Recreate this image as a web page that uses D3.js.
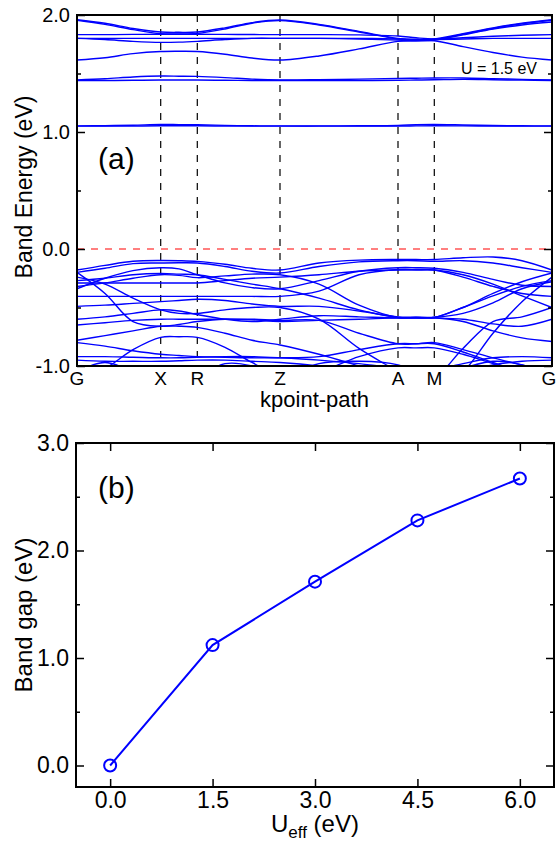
<!DOCTYPE html>
<html>
<head>
<meta charset="utf-8">
<script src="https://cdn.jsdelivr.net/npm/d3@7"></script>
<style>
  body { margin: 0; background: #fff; }
  svg text { font-family: "Liberation Sans", Arial, Helvetica, sans-serif; fill: #000; }
</style>
</head>
<body>
<div id="graphicContainer"></div>
<script>
// high symmetry points along the path
var kLabels = ["G", "X", "R", "Z", "A", "M", "G"]
var kLabelPos = [0, 0.837, 1.203, 2.03, 3.21, 3.573, 4.75]
// k samples used by every band
var kGrid = [0, 0.28, 0.56, 0.837, 1.02, 1.203, 1.48, 1.75, 2.03, 2.42, 2.82, 3.21, 3.39, 3.573, 3.86, 4.16, 4.45, 4.75]

// conduction bands (eV)
var c01 = [1.052, 1.054, 1.058, 1.064, 1.063, 1.062, 1.057, 1.053, 1.052, 1.052, 1.053, 1.056, 1.062, 1.064, 1.060, 1.055, 1.053, 1.052]
var c02 = [1.050, 1.050, 1.051, 1.053, 1.053, 1.053, 1.051, 1.050, 1.050, 1.050, 1.050, 1.050, 1.052, 1.053, 1.052, 1.051, 1.050, 1.050]
var c03 = [1.445, 1.455, 1.470, 1.478, 1.477, 1.475, 1.465, 1.452, 1.445, 1.447, 1.452, 1.458, 1.460, 1.462, 1.462, 1.456, 1.450, 1.445]
var c04 = [1.440, 1.440, 1.442, 1.444, 1.444, 1.444, 1.442, 1.440, 1.440, 1.440, 1.440, 1.442, 1.444, 1.446, 1.450, 1.447, 1.443, 1.440]
var c05 = [1.615, 1.635, 1.670, 1.688, 1.690, 1.688, 1.665, 1.632, 1.615, 1.650, 1.710, 1.775, 1.780, 1.780, 1.730, 1.680, 1.640, 1.615]
var c06 = [1.960, 1.930, 1.885, 1.855, 1.852, 1.855, 1.890, 1.935, 1.957, 1.920, 1.860, 1.800, 1.790, 1.795, 1.840, 1.890, 1.930, 1.960]
var c07 = [1.955, 1.920, 1.875, 1.840, 1.838, 1.842, 1.880, 1.930, 1.952, 1.915, 1.855, 1.795, 1.785, 1.790, 1.835, 1.885, 1.925, 1.955]
var c08 = [1.832, 1.832, 1.834, 1.835, 1.835, 1.835, 1.834, 1.833, 1.832, 1.832, 1.830, 1.820, 1.805, 1.795, 1.805, 1.818, 1.827, 1.832]
var c09 = [1.800, 1.790, 1.775, 1.766, 1.768, 1.775, 1.790, 1.800, 1.800, 1.800, 1.800, 1.795, 1.790, 1.790, 1.795, 1.800, 1.800, 1.800]
var c10 = [1.800, 1.800, 1.800, 1.800, 1.800, 1.800, 1.800, 1.800, 1.800, 1.800, 1.795, 1.785, 1.780, 1.785, 1.830, 1.880, 1.915, 1.940]

// valence bands (eV)
var v01 = [-0.18, -0.14, -0.105, -0.098, -0.10, -0.106, -0.13, -0.165, -0.18, -0.12, -0.095, -0.09, -0.09, -0.09, -0.075, -0.068, -0.10, -0.18]
var v02 = [-0.20, -0.165, -0.125, -0.12, -0.118, -0.12, -0.15, -0.19, -0.205, -0.15, -0.11, -0.10, -0.10, -0.105, -0.10, -0.12, -0.16, -0.20]
var v03 = [-0.34, -0.25, -0.185, -0.16, -0.17, -0.22, -0.29, -0.33, -0.34, -0.27, -0.19, -0.16, -0.16, -0.165, -0.20, -0.26, -0.31, -0.32]
var v04 = [-0.32, -0.29, -0.25, -0.22, -0.225, -0.245, -0.23, -0.215, -0.22, -0.30, -0.48, -0.585, -0.585, -0.585, -0.50, -0.38, -0.28, -0.205]
var v05 = [-0.20, -0.38, -0.62, -0.66, -0.645, -0.62, -0.60, -0.605, -0.62, -0.61, -0.60, -0.588, -0.588, -0.588, -0.62, -0.70, -0.76, -0.79]
var v06 = [-0.405, -0.405, -0.405, -0.405, -0.405, -0.405, -0.405, -0.405, -0.405, -0.36, -0.22, -0.175, -0.175, -0.18, -0.24, -0.32, -0.38, -0.405]
var v07 = [-0.49, -0.48, -0.465, -0.45, -0.44, -0.43, -0.44, -0.47, -0.49, -0.49, -0.53, -0.58, -0.583, -0.583, -0.55, -0.46, -0.34, -0.28]
var v08 = [-0.29, -0.29, -0.29, -0.29, -0.29, -0.29, -0.27, -0.25, -0.24, -0.22, -0.19, -0.18, -0.18, -0.18, -0.22, -0.30, -0.40, -0.50]
var v09 = [-0.60, -0.58, -0.55, -0.52, -0.53, -0.56, -0.60, -0.62, -0.60, -0.57, -0.58, -0.59, -0.59, -0.59, -0.60, -0.64, -0.66, -0.60]
var v10 = [-0.65, -0.63, -0.61, -0.60, -0.60, -0.60, -0.60, -0.60, -0.61, -0.61, -0.72, -0.81, -0.81, -0.80, -0.86, -0.93, -0.99, -1.05]
var v11 = [-1.10, -1.02, -0.86, -0.755, -0.75, -0.755, -0.84, -0.97, -1.08, -1.05, -0.92, -0.845, -0.845, -0.845, -0.90, -0.98, -1.05, -1.10]
var v12 = [-0.80, -0.83, -0.87, -0.90, -0.91, -0.92, -0.925, -0.93, -0.93, -0.92, -0.86, -0.81, -0.81, -0.81, -0.88, -0.97, -1.05, -1.10]
var v13 = [-0.92, -0.92, -0.925, -0.93, -0.93, -0.925, -0.92, -0.92, -0.93, -0.95, -0.98, -1.02, -1.03, -1.03, -0.98, -0.93, -0.92, -0.93]
var v14 = [-0.95, -0.96, -0.96, -0.96, -0.955, -0.95, -0.95, -0.96, -0.97, -1.00, -1.05, -1.10, -1.10, -1.10, -1.05, -0.99, -0.96, -0.95]
var v15 = [-0.24, -0.30, -0.42, -0.52, -0.55, -0.55, -0.52, -0.50, -0.50, -0.60, -0.85, -1.05, -1.15, -1.20, -1.05, -0.72, -0.45, -0.24]
var v16 = [-0.27, -0.25, -0.22, -0.21, -0.215, -0.22, -0.26, -0.30, -0.34, -0.42, -0.52, -0.585, -0.585, -0.585, -0.50, -0.40, -0.32, -0.27]
var v17 = [-1.05, -0.97, -1.05, -1.15, -1.20, -1.10, -0.98, -1.00, -1.10, -0.98, -0.96, -0.99, -1.05, -1.10, -1.02, -0.96, -0.99, -1.10]
var v18 = [-0.78, -0.74, -0.70, -0.66, -0.66, -0.67, -0.72, -0.78, -0.82, -0.90, -1.00, -1.10, -1.10, -1.10, -0.85, -0.62, -0.58, -0.50]

var bands = [c01, c02, c03, c04, c05, c06, c07, c08, c09, c10,
	v01, v02, v03, v04, v05, v06, v07, v08, v09, v10, v11, v12, v13, v14, v15, v16, v17, v18]

// panel (b)
var uEff = [0, 1.5, 3.0, 4.5, 6.0]
var bandGap = [0, 1.12, 1.71, 2.28, 2.67]

var blue = "#0000ff"

var svg = d3.select("#graphicContainer").append("svg")
	.attr("width", 556)
	.attr("height", 843)

// ---------- panel (a) ----------
var a = {left: 77, right: 552, top: 15, bottom: 366}

var x = d3.scaleLinear().domain([0, 4.75]).range([a.left, a.right])
var y = d3.scaleLinear().domain([-1, 2]).range([a.bottom, a.top])

svg.append("clipPath").attr("id", "clipA")
	.append("rect")
	.attr("x", a.left).attr("y", a.top)
	.attr("width", a.right - a.left).attr("height", a.bottom - a.top)

var plotA = svg.append("g").attr("clip-path", "url(#clipA)")

// high symmetry dashed lines
plotA.selectAll(".kline")
	.data(kLabelPos.slice(1, -1))
	.enter().append("line")
	.attr("class", "kline")
	.attr("x1", d => x(d)).attr("x2", d => x(d))
	.attr("y1", a.top).attr("y2", a.bottom)
	.attr("stroke", "#000")
	.attr("stroke-width", 1.2)
	.attr("stroke-dasharray", "7,7")

// fermi level
plotA.append("line")
	.attr("x1", a.left).attr("x2", a.right)
	.attr("y1", y(0)).attr("y2", y(0))
	.attr("stroke", "#ff0000")
	.attr("stroke-width", 1.2)
	.attr("stroke-dasharray", "7,7")

var bandLine = d3.line()
	.x((d, i) => x(kGrid[i]))
	.y(d => y(d))
	.curve(d3.curveCatmullRom.alpha(0.5))

plotA.selectAll(".band")
	.data(bands)
	.enter().append("path")
	.attr("class", "band")
	.attr("d", bandLine)
	.attr("fill", "none")
	.attr("stroke", blue)
	.attr("stroke-width", 1.4)

// y axes, ticks inward
function addTicks(g, axis) {
	g.call(axis)
	g.select(".domain").remove()
	g.selectAll(".tick line").attr("stroke", "#000").attr("stroke-width", 1.5)
}

var majorA = [-1, 0, 1, 2]
var minorA = [-0.5, 0.5, 1.5]

var yAxisA = svg.append("g").attr("transform", "translate(" + a.left + ",0)")
addTicks(yAxisA, d3.axisLeft(y).tickValues(majorA).tickSize(-8).tickPadding(7).tickFormat(d3.format(".1f")))
yAxisA.selectAll("text").style("font-size", "20px").text(d => d.toFixed(1))
addTicks(svg.append("g").attr("transform", "translate(" + a.left + ",0)"),
	d3.axisLeft(y).tickValues(minorA).tickSize(-4).tickFormat(""))
addTicks(svg.append("g").attr("transform", "translate(" + a.right + ",0)"),
	d3.axisRight(y).tickValues(majorA).tickSize(-8).tickFormat(""))
addTicks(svg.append("g").attr("transform", "translate(" + a.right + ",0)"),
	d3.axisRight(y).tickValues(minorA).tickSize(-4).tickFormat(""))

svg.append("rect")
	.attr("x", a.left).attr("y", a.top)
	.attr("width", a.right - a.left).attr("height", a.bottom - a.top)
	.attr("fill", "none").attr("stroke", "#000").attr("stroke-width", 2)

// last label pulled in a little so it stays inside the page
svg.selectAll(".klabel")
	.data(kLabels)
	.enter().append("text")
	.attr("class", "klabel")
	.attr("x", (d, i) => x(kLabelPos[i]) - (i == kLabels.length - 1 ? 3 : 0))
	.attr("y", 385)
	.attr("text-anchor", "middle")
	.style("font-size", "19px")
	.text(d => d)

svg.append("text")
	.attr("x", (a.left + a.right) / 2).attr("y", 407)
	.attr("text-anchor", "middle")
	.style("font-size", "22px")
	.text("kpoint-path")

svg.append("text")
	.attr("transform", "translate(32," + 187 + ") rotate(-90)")
	.attr("text-anchor", "middle")
	.style("font-size", "23px")
	.text("Band Energy (eV)")

svg.append("text")
	.attr("x", 98).attr("y", 169)
	.style("font-size", "30px")
	.text("(a)")

svg.append("text")
	.attr("x", 537).attr("y", 74)
	.attr("text-anchor", "end")
	.style("font-size", "16px")
	.text("U = 1.5 eV")

// ---------- panel (b) ----------
var b = {left: 76, right: 554, top: 443, bottom: 787}

var xb = d3.scaleLinear().domain([-0.5, 6.5]).range([b.left, b.right])
var yb = d3.scaleLinear().domain([-0.2, 3.0]).range([b.bottom, b.top])

var majorB = [0, 1, 2, 3]
var minorB = [0.5, 1.5, 2.5]

var yAxisB = svg.append("g").attr("transform", "translate(" + b.left + ",0)")
addTicks(yAxisB, d3.axisLeft(yb).tickValues(majorB).tickSize(-8).tickPadding(7).tickFormat(d3.format(".1f")))
yAxisB.selectAll("text").style("font-size", "23px")
addTicks(svg.append("g").attr("transform", "translate(" + b.left + ",0)"),
	d3.axisLeft(yb).tickValues(minorB).tickSize(-4).tickFormat(""))
addTicks(svg.append("g").attr("transform", "translate(" + b.right + ",0)"),
	d3.axisRight(yb).tickValues(majorB).tickSize(-8).tickFormat(""))
addTicks(svg.append("g").attr("transform", "translate(" + b.right + ",0)"),
	d3.axisRight(yb).tickValues(minorB).tickSize(-4).tickFormat(""))

var xAxisB = svg.append("g").attr("transform", "translate(0," + b.bottom + ")")
addTicks(xAxisB, d3.axisBottom(xb).tickValues(uEff).tickSize(-8).tickPadding(5).tickFormat(d3.format(".1f")))
xAxisB.selectAll("text").style("font-size", "23px")
addTicks(svg.append("g").attr("transform", "translate(0," + b.top + ")"),
	d3.axisTop(xb).tickValues(uEff).tickSize(-8).tickFormat(""))

svg.append("rect")
	.attr("x", b.left).attr("y", b.top)
	.attr("width", b.right - b.left).attr("height", b.bottom - b.top)
	.attr("fill", "none").attr("stroke", "#000").attr("stroke-width", 2)

var gapLine = d3.line()
	.x((d, i) => xb(uEff[i]))
	.y(d => yb(d))

svg.append("path")
	.datum(bandGap)
	.attr("d", gapLine)
	.attr("fill", "none")
	.attr("stroke", blue)
	.attr("stroke-width", 2)

svg.selectAll(".pt")
	.data(bandGap)
	.enter().append("circle")
	.attr("class", "pt")
	.attr("cx", (d, i) => xb(uEff[i]))
	.attr("cy", d => yb(d))
	.attr("r", 6)
	.attr("fill", "none")
	.attr("stroke", blue)
	.attr("stroke-width", 2)

var xTitle = svg.append("text")
	.attr("x", (b.left + b.right) / 2).attr("y", 832)
	.attr("text-anchor", "middle")
	.style("font-size", "24px")
xTitle.append("tspan").text("U")
xTitle.append("tspan").attr("dy", 6).style("font-size", "17px").text("eff")
xTitle.append("tspan").attr("dy", -6).text(" (eV)")

svg.append("text")
	.attr("transform", "translate(32," + 615 + ") rotate(-90)")
	.attr("text-anchor", "middle")
	.style("font-size", "24px")
	.text("Band gap (eV)")

svg.append("text")
	.attr("x", 98).attr("y", 498)
	.style("font-size", "30px")
	.text("(b)")
</script>
</body>
</html>
